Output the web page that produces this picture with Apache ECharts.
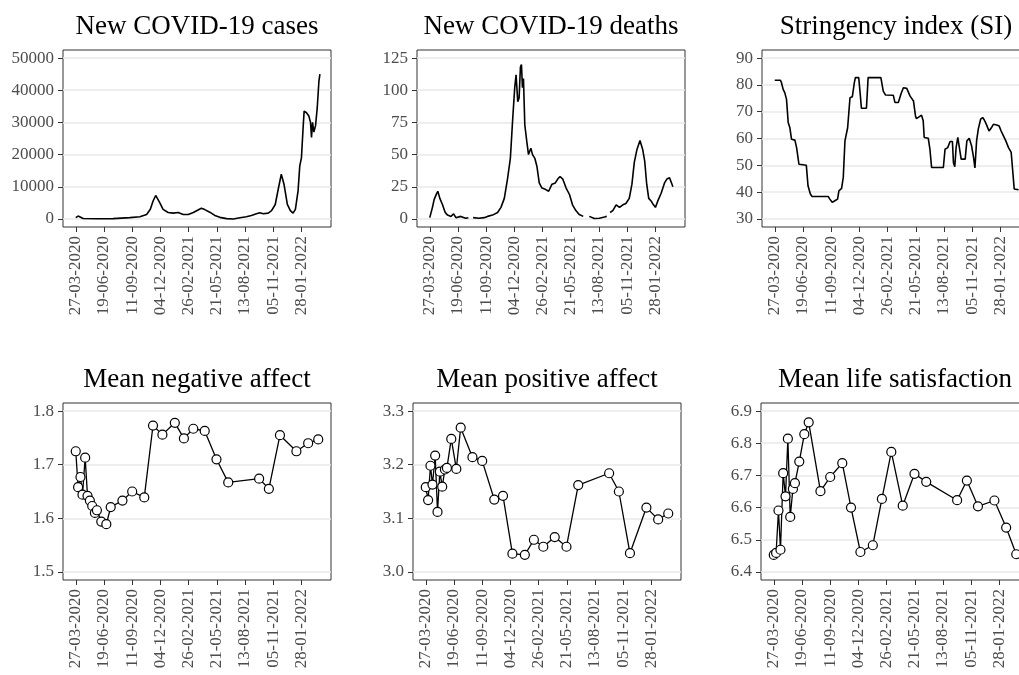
<!DOCTYPE html>
<html lang="en">
<head>
<meta charset="UTF-8"/>
<title>COVID-19 and wellbeing</title>
<style>
    * { margin: 0; padding: 0; }
    body { background: #fff; overflow: hidden; }
    #chart { width: 1019px; height: 675px; }
</style>
<script src="https://cdn.jsdelivr.net/npm/echarts@6/dist/echarts.min.js"></script>
</head>
<body>
<div id="chart"></div>
<script>
    // x tick labels (every 84 days from the first one)
    const tickLabels = ['27-03-2020', '19-06-2020', '11-09-2020', '04-12-2020', '26-02-2021',
        '21-05-2021', '13-08-2021', '05-11-2021', '28-01-2022'];

    // days counted from 27-03-2020
    const casesDays = [0, 7, 22, 62, 111, 161, 191, 211, 222, 230, 238, 250, 260, 275, 290, 305, 320, 335, 350, 364,
        374, 384, 399, 414, 429, 449, 469, 489, 508, 523, 538, 548, 558, 573, 583, 594, 603, 612, 620, 630,
        639, 647, 654, 662, 667, 672, 677, 680, 687, 694, 699, 702, 705, 709, 714, 719, 724, 727];
    const casesValues = [400, 900, 150, 50, 100, 400, 700, 1400, 3000, 5500, 7300, 5100, 3000, 2000, 1800, 2000, 1400, 1400, 2000, 2800,
        3300, 2900, 2100, 1100, 500, 100, 0, 400, 700, 1100, 1600, 1900, 1600, 1800, 2600, 4500, 9300, 13900, 10800, 4500,
        2600, 1800, 3000, 8800, 16500, 19000, 28400, 33500, 33000, 32000, 30000, 25300, 30000, 27000, 29000, 34500, 42800, 45000];

    const deathsDays = [0, 8, 13, 20, 24, 30, 38, 46, 53, 63, 71, 78, 92, 107, 115, 121, 129, 147, 162, 172,
        187, 202, 212, 222, 232, 240, 247, 253, 257, 262, 266, 270, 273, 276, 279, 283, 289, 294, 301, 306,
        313, 319, 326, 334, 344, 354, 364, 374, 381, 388, 396, 406, 416, 425, 435, 445, 457, 465, 475, 490,
        505, 520, 527, 532, 537, 545, 555, 565, 575, 584, 594, 602, 609, 617, 626, 634, 640, 646, 652, 659,
        666, 672, 679, 689, 699, 706, 714, 719, 724];
    const deathsValues = [1, 9, 15, 19.5, 21.5, 16, 11, 5, 3, 2, 4, 1, 2, 0.5, 1, null, 1, 0.5, 1, 2,
        3, 5, 9, 16, 32, 47, 78, 102, 112, 91, 94, 118, 120, 102, 109, 73, 60, 50, 55, 50,
        47, 41, 28, 24, 23, 21.5, 27, 28, 31, 33, 31, 24, 19, 11, 6.5, 3.4, 2, null, 2, 0.3,
        0.5, 1.5, 2, null, 5, 6.5, 11, 9, 11, 12, 16, 27, 44, 54, 61, 54, 45, 27, 16, 14,
        11, 9, 14, 20, 28, 31, 32, 31, 25];

    const siDays = [0, 17, 20, 25, 30, 35, 40, 45, 50, 60, 65, 72, 84, 94, 99, 106, 111, 159, 164, 171,
        179, 187, 191, 199, 204, 209, 217, 224, 231, 237, 240, 250, 255, 258, 273, 278, 316, 323, 330, 353,
        358, 368, 376, 383, 393, 403, 413, 419, 422, 437, 442, 445, 457, 462, 467, 502, 507, 515, 522, 529,
        532, 536, 540, 545, 550, 555, 567, 572, 579, 586, 592, 596, 601, 606, 613, 619, 624, 631, 638, 644,
        651, 661, 668, 674, 681, 688, 696, 704, 708, 713, 726];
    const siValues = [81.7, 81.7, 80.8, 78.3, 77, 74.6, 66, 64, 59.7, 59.4, 56.6, 50.4, 50.2, 50, 42.4, 39.3, 38.4, 38.4, 37.4, 36.2,
        36.8, 37.4, 40.5, 41.4, 45.5, 59.1, 64, 75.2, 75.6, 80.8, 82.7, 82.7, 75.8, 71.3, 71.3, 82.7, 82.7, 77.7, 76.2, 76.1,
        73.4, 73.4, 76.7, 78.9, 78.7, 75.8, 74, 68.4, 67.4, 68.7, 66.6, 60.4, 60.1, 56, 49.2, 49.2, 56, 56.6, 58.9, 58.9,
        51, 49.5, 56.6, 60.4, 60.1, 52.3, 52.3, 59.1, 60.1, 57.3, 52.9, 49, 59.1, 63.5, 67.2, 67.8, 66.9, 65, 62.8, 63.8,
        65.3, 65, 64.7, 62.8, 61, 59.1, 56.6, 54.8, 54.2, 41.2, 40.9];

    // survey waves
    const waveDays = [0, 7, 14, 20, 28, 35, 42, 49, 57, 63, 76, 91, 104, 139, 168, 204, 230, 258, 295, 322,
        350, 384, 419, 454, 546, 575, 608, 657, 692, 722];
    const negAffect = [1.725, 1.658, 1.677, 1.644, 1.713, 1.642, 1.633, 1.623, 1.610, 1.615, 1.594, 1.589, 1.621, 1.633, 1.650,
        1.639, 1.773, 1.756, 1.778, 1.749, 1.767, 1.763, 1.710, 1.667, 1.674, 1.655, 1.755, 1.725, 1.740, 1.747];
    const posAffect = [3.158, 3.134, 3.198, 3.163, 3.217, 3.112, 3.187, 3.159, 3.191, 3.194, 3.248, 3.192, 3.269, 3.214, 3.207,
        3.135, 3.142, 3.034, 3.032, 3.060, 3.047, 3.065, 3.047, 3.162, 3.184, 3.150, 3.035, 3.120, 3.098, 3.109];
    const lifeSat = [6.453, 6.459, 6.591, 6.469, 6.707, 6.635, 6.814, 6.571, 6.658, 6.676, 6.743, 6.828, 6.865, 6.651, 6.695,
        6.738, 6.600, 6.462, 6.483, 6.627, 6.773, 6.606, 6.705, 6.680, 6.623, 6.684, 6.604, 6.622, 6.538, 6.455];

    const casesTicks = [0, 10000, 20000, 30000, 40000, 50000];
    const deathsTicks = [0, 25, 50, 75, 100, 125];
    const siTicks = [30, 40, 50, 60, 70, 80, 90];
    const negTicks = [1.5, 1.6, 1.7, 1.8];
    const posTicks = [3.0, 3.1, 3.2, 3.3];
    const lifeTicks = [6.4, 6.5, 6.6, 6.7, 6.8, 6.9];

    const titles = ['New COVID-19 cases', 'New COVID-19 deaths', 'Stringency index (SI)',
        'Mean negative affect', 'Mean positive affect', 'Mean life satisfaction'];

    const font = "'Liberation Serif', 'Times New Roman', serif";
    const day0 = Date.UTC(2020, 2, 27);
    const dayOf = (s) => {
        const p = s.split('-').map(Number);
        return Math.round((Date.UTC(p[2], p[1] - 1, p[0]) - day0) / 86400000);
    };
    const tickDays = tickLabels.map(dayOf);

    // panel boxes: left, top
    const boxes = [[63, 50], [417, 50], [762, 50], [63, 403], [413, 403], [761, 403]];
    const boxW = 268, boxH = 177;

    const zip = (xs, ys) => xs.map((x, i) => [x, ys[i] === null ? '-' : ys[i]]);

    function xAxisFor(i) {
        return {
            type: 'value', gridIndex: i, min: -38, max: 760,
            axisLine: {show: false, onZero: false},
            axisTick: {show: true, length: 5, customValues: tickDays, lineStyle: {color: '#333'}},
            axisLabel: {
                customValues: tickDays, rotate: 90, margin: 9, color: '#4d4d4d',
                fontFamily: font, fontSize: 17,
                formatter: (v) => tickLabels[tickDays.indexOf(v)] || ''
            },
            splitLine: {show: false}
        };
    }

    function yAxisFor(i, ticks, digits) {
        const lo = ticks[0], hi = ticks[ticks.length - 1], pad = (hi - lo) * 0.05;
        return {
            type: 'value', gridIndex: i, min: lo - pad, max: hi + pad,
            axisLine: {show: false, onZero: false},
            axisTick: {show: true, length: 5, customValues: ticks, lineStyle: {color: '#333'}},
            axisLabel: {
                customValues: ticks, margin: 9, color: '#4d4d4d', fontFamily: font, fontSize: 17,
                formatter: (v) => v.toFixed(digits)
            },
            splitLine: {show: true, lineStyle: {color: '#e8e8e8', width: 1.5}}
        };
    }

    const yTicks = [[casesTicks, 0], [deathsTicks, 0], [siTicks, 0], [negTicks, 1], [posTicks, 1], [lifeTicks, 1]];

    const lineSeries = (i, data) => ({
        type: 'line', xAxisIndex: i, yAxisIndex: i, data: data,
        showSymbol: false, symbol: 'none', silent: true, animation: false,
        lineStyle: {color: '#000', width: 1.6}
    });
    const pointSeries = (i, data) => ({
        type: 'line', xAxisIndex: i, yAxisIndex: i, data: data,
        symbol: 'circle', symbolSize: 9, silent: true, animation: false,
        lineStyle: {color: '#000', width: 1.3},
        itemStyle: {color: '#fff', borderColor: '#000', borderWidth: 1.2}
    });

    const chart = echarts.init(document.getElementById('chart'));
    chart.setOption({
        backgroundColor: '#fff',
        animation: false,
        title: titles.map((t, i) => ({
            text: t,
            left: boxes[i][0] + boxW / 2 - 5,
            top: i < 3 ? 8 : 361,
            textAlign: 'center',
            textStyle: {fontFamily: font, fontSize: 27, fontWeight: 'normal', color: '#000'}
        })),
        grid: boxes.map((b) => ({
            left: b[0], top: b[1], width: boxW, height: boxH,
            show: true, borderColor: '#333', borderWidth: 1, backgroundColor: '#fff',
            containLabel: false, outerBoundsMode: 'none'
        })),
        xAxis: boxes.map((b, i) => xAxisFor(i)),
        yAxis: yTicks.map((t, i) => yAxisFor(i, t[0], t[1])),
        series: [
            lineSeries(0, zip(casesDays, casesValues)),
            lineSeries(1, zip(deathsDays, deathsValues)),
            lineSeries(2, zip(siDays, siValues)),
            pointSeries(3, zip(waveDays, negAffect)),
            pointSeries(4, zip(waveDays, posAffect)),
            pointSeries(5, zip(waveDays, lifeSat))
        ]
    });
</script>
</body>
</html>
